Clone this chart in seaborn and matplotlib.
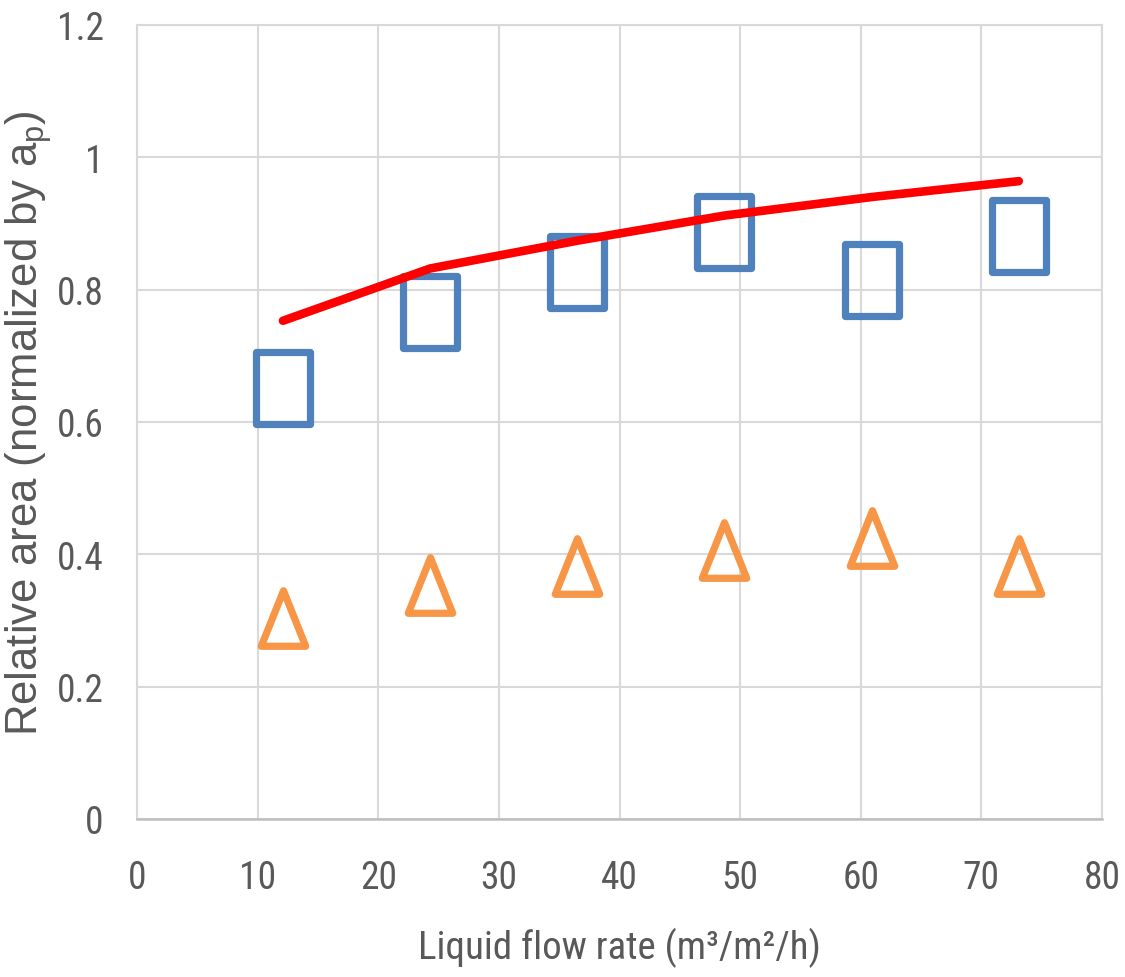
import matplotlib
matplotlib.use("Agg")
import matplotlib.pyplot as plt
from matplotlib.markers import MarkerStyle
from matplotlib.path import Path
from matplotlib import font_manager
from matplotlib.ticker import FixedLocator, FixedFormatter
import seaborn as sns

# ---------------- data ----------------
flow_rate = [12.1, 24.3, 36.5, 48.7, 60.9, 73.1]
area_squares = [0.651, 0.766, 0.827, 0.887, 0.815, 0.881]
area_triangles = [0.304, 0.354, 0.382, 0.407, 0.424, 0.382]
model_flow = [12.1, 24.3, 36.5, 48.7, 60.9, 73.1]
model_area = [0.753, 0.832, 0.874, 0.912, 0.940, 0.964]

x_ticks = [0, 10, 20, 30, 40, 50, 60, 70, 80]
x_tick_labels = ["0", "10", "20", "30", "40", "50", "60", "70", "80"]
y_ticks = [0, 0.2, 0.4, 0.6, 0.8, 1.0, 1.2]
y_tick_labels = ["0", "0.2", "0.4", "0.6", "0.8", "1", "1.2"]

x_label = "Liquid flow rate (m\u00b3/m\u00b2/h)"
y_label = r"Relative area (normalized by a$_\mathrm{p}$)"

# ---------------- style ----------------
sns.set_style("white")
names = {f.name for f in font_manager.fontManager.ttflist}
narrow = None
for cand in ["Liberation Sans Narrow", "Roboto Condensed", "Open Sans Condensed"]:
    if cand in names:
        narrow = dict(family=cand)
        break
if narrow is None:
    narrow = dict(family="DejaVu Sans", stretch="condensed")

plt.rcParams["font.family"] = ["Liberation Sans", "DejaVu Sans"]
plt.rcParams["mathtext.fontset"] = "custom"
plt.rcParams["mathtext.rm"] = "Liberation Sans"
plt.rcParams["mathtext.it"] = "Liberation Sans:italic"

text_color = "#595959"
grid_color = "#d9d9d9"

fig = plt.figure(figsize=(11.25, 9.78), dpi=100)
ax = fig.add_axes([137 / 1125, 1 - 820 / 978, 965 / 1125, 794 / 978])

square = MarkerStyle(Path([(-0.76, -1), (0.76, -1), (0.76, 1), (-0.76, 1), (-0.76, -1)],
                          closed=True), joinstyle="round")
triangle = MarkerStyle(Path([(0, 1), (-0.8, -1), (0.8, -1), (0, 1)], closed=True),
                       joinstyle="round")

sns.lineplot(x=model_flow, y=model_area, ax=ax, color="#ff0000", linewidth=6.2,
             solid_capstyle="round", solid_joinstyle="round", zorder=4)
sns.lineplot(x=flow_rate, y=area_squares, ax=ax, linestyle="none", marker=square,
             markersize=52, markeredgewidth=5.2, markeredgecolor="#4f81bd",
             markerfacecolor="none", color="#4f81bd", zorder=3)
sns.lineplot(x=flow_rate, y=area_triangles, ax=ax, linestyle="none", marker=triangle,
             markersize=40, markeredgewidth=5.2, markeredgecolor="#f79646",
             markerfacecolor="none", color="#f79646", zorder=3)

ax.set_xlim(0, 80)
ax.set_ylim(0, 1.2)
ax.xaxis.set_major_locator(FixedLocator(x_ticks))
ax.xaxis.set_major_formatter(FixedFormatter(x_tick_labels))
ax.yaxis.set_major_locator(FixedLocator(y_ticks))
ax.yaxis.set_major_formatter(FixedFormatter(y_tick_labels))

ax.grid(True, color=grid_color, linewidth=1.5, zorder=0)
ax.set_axisbelow(True)
for side in ["left", "top", "right"]:
    ax.spines[side].set_color(grid_color)
    ax.spines[side].set_linewidth(1.5)
ax.spines["bottom"].set_color("#bfbfbf")
ax.spines["bottom"].set_linewidth(1.8)

ax.tick_params(axis="both", length=0, colors=text_color)
ax.tick_params(axis="x", pad=29)
ax.tick_params(axis="y", pad=24)
for lab in ax.get_xticklabels() + ax.get_yticklabels():
    lab.set_fontsize(27)
    lab.set_color(text_color)
    lab.set_family(narrow["family"])
    if "stretch" in narrow:
        lab.set_stretch(narrow["stretch"])

ax.set_xlabel(x_label, fontsize=28, color=text_color, labelpad=22, **narrow)
ax.set_ylabel(y_label, fontsize=31.5, color=text_color)
ax.yaxis.set_label_coords(-0.086, 0.5)

fig.savefig("out.png", dpi=100, facecolor="white")
